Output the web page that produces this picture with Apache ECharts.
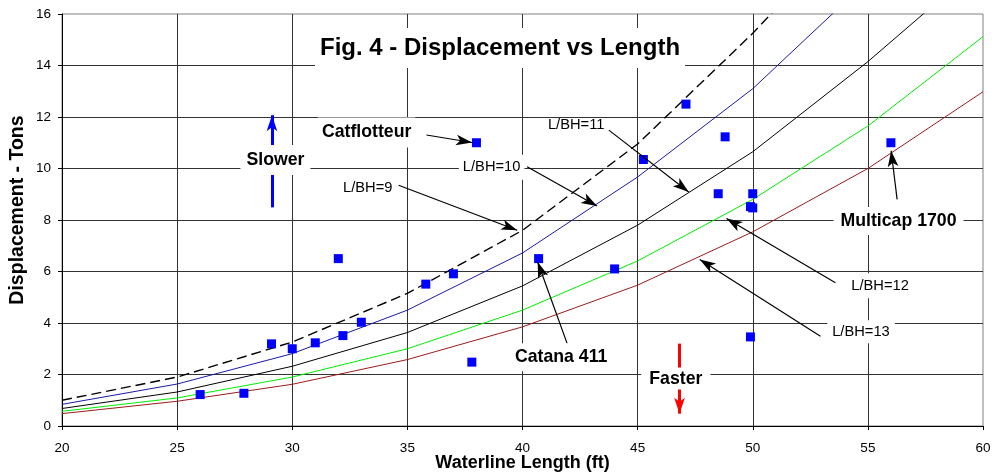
<!DOCTYPE html>
<html>
<head>
<meta charset="utf-8">
<script src="https://cdn.jsdelivr.net/npm/echarts@6/dist/echarts.min.js"></script>
<style>
html,body{margin:0;padding:0;background:#fff;}
#c{width:992px;height:474px;}
</style>
</head>
<body>
<div id="c"></div>
<script>
// ---- data ----
const lengths = [20, 25, 30, 35, 40, 45, 50, 55, 60];
const lbh9  = [1.00, 1.90, 3.26, 5.15, 7.60, 10.95, 15.25, 20.0, 25.6];
const lbh10 = [0.84, 1.63, 2.81, 4.50, 6.72, 9.67, 13.10, 17.3, 22.4];
const lbh11 = [0.68, 1.32, 2.32, 3.63, 5.44, 7.80, 10.65, 14.15, 18.0];
const lbh12 = [0.57, 1.09, 1.90, 3.00, 4.50, 6.41, 8.80, 11.65, 15.12];
const lbh13 = [0.48, 0.96, 1.62, 2.58, 3.85, 5.47, 7.54, 10.00, 12.98];

const boatLength = [26.0, 27.9, 29.1, 30.0, 31.0, 32.0, 32.2, 33.0, 35.8, 37.0, 37.8, 38.0, 40.7, 44.0, 45.25, 47.1, 48.5, 48.8, 49.9, 50.0, 50.0, 49.9, 56.0];
const boatDisp   = [1.22, 1.27, 3.19, 3.00, 3.23, 6.50, 3.51, 4.03, 5.51, 5.91, 2.48, 11.0, 6.50, 6.10, 10.35, 12.5, 9.02, 11.23, 8.52, 8.47, 9.02, 3.46, 11.0];

const seriesNames = ['L/BH=9', 'L/BH=10', 'L/BH=11', 'L/BH=12', 'L/BH=13'];

// annotation texts (data-space anchor) and arrows (from -> to)
const labelTexts = ['Slower', 'Faster', 'Catflotteur', 'Catana 411', 'Multicap 1700', 'L/BH=9', 'L/BH=10', 'L/BH=11', 'L/BH=12', 'L/BH=13'];
const labelX     = [29.27, 46.66, 33.23, 41.68, 56.33, 33.28, 38.66, 42.33, 55.53, 54.70];
const labelY     = [10.33, 1.84, 11.40, 2.67, 7.96, 9.25, 10.05, 11.69, 5.45, 3.66];

const arrowFromX = [29.12, 46.82, 35.83, 41.94, 56.27, 34.62, 40.20, 43.75, 53.59, 52.94];
const arrowFromY = [8.49, 3.20, 11.30, 3.20, 8.80, 9.35, 10.07, 11.49, 5.56, 3.49];
const arrowToX   = [29.12, 46.82, 37.81, 40.66, 56.01, 39.77, 43.24, 47.22, 48.86, 47.70];
const arrowToY   = [12.07, 0.48, 11.01, 6.37, 10.69, 7.60, 8.54, 9.09, 8.06, 6.47];

// ---- styles ----
const FF = '"Liberation Sans", Arial, sans-serif';
const labelStyles = [
  {bold: true,  bg: true,  pad: [6, 6]},
  {bold: true,  bg: true,  pad: [2, 8]},
  {bold: true,  bg: true,  pad: [6, 4]},
  {bold: true,  bg: true,  pad: [5, 4]},
  {bold: true,  bg: true,  pad: [5, 7]},
  {bold: false, bg: false, pad: [0, 0]},
  {bold: false, bg: true,  pad: [5, 4]},
  {bold: false, bg: false, pad: [0, 0]},
  {bold: false, bg: true,  pad: [5, 5]},
  {bold: false, bg: true,  pad: [4, 5]}
];
const arrowStyles = [
  {color: '#0000ff', width: 3, size: 11},
  {color: '#ff0000', width: 3, size: 11},
  {color: '#000', width: 1.2, size: 9},
  {color: '#000', width: 1.2, size: 9},
  {color: '#000', width: 1.2, size: 9},
  {color: '#000', width: 1.2, size: 9},
  {color: '#000', width: 1.2, size: 9},
  {color: '#000', width: 1.2, size: 9},
  {color: '#000', width: 1.2, size: 9},
  {color: '#000', width: 1.2, size: 9}
];
const lineColors = ['#000000', '#1a1aa6', '#000000', '#00ee00', '#9b1b1b'];

function curve(vals) { return lengths.map((x, i) => [x, vals[i]]); }

const curveSeries = [lbh9, lbh10, lbh11, lbh12, lbh13].map((vals, i) => ({
  type: 'line',
  name: seriesNames[i],
  data: curve(vals),
  symbol: 'none',
  clip: true,
  z: 2,
  lineStyle: {color: lineColors[i], width: i === 0 ? 1.4 : 1, type: i === 0 ? [10, 5] : 'solid'},
  emphasis: {disabled: true}
}));

const boatSeries = {
  type: 'scatter',
  name: 'Boats',
  data: boatLength.map((x, i) => [x, boatDisp[i]]),
  symbol: 'rect',
  symbolSize: 9,
  z: 3,
  itemStyle: {color: '#0000ff', opacity: 1},
  emphasis: {disabled: true}
};

const arrowSeries = {
  type: 'line',
  name: 'arrows',
  data: [],
  z: 4,
  markLine: {
    silent: true,
    animation: false,
    symbol: ['none', 'arrow'],
    label: {show: false},
    emphasis: {disabled: true},
    data: arrowFromX.map((fx, i) => [
      {coord: [fx, arrowFromY[i]], symbolSize: [0, arrowStyles[i].size],
       lineStyle: {color: arrowStyles[i].color, width: arrowStyles[i].width, type: 'solid'}},
      {coord: [arrowToX[i], arrowToY[i]]}
    ])
  }
};

const labelSeries = {
  type: 'scatter',
  name: 'labels',
  z: 10,
  symbolSize: 1,
  itemStyle: {color: 'rgba(255,255,255,0)', opacity: 1},
  emphasis: {disabled: true},
  data: labelTexts.map((t, i) => ({
    value: [labelX[i], labelY[i]],
    name: t,
    label: {
      show: true,
      position: 'inside',
      formatter: t,
      color: '#000',
      opacity: 1,
      textBorderWidth: 0,
      fontFamily: FF,
      fontSize: labelStyles[i].bold ? 17.7 : 14.7,
      fontWeight: labelStyles[i].bold ? 'bold' : 'normal',
      lineHeight: labelStyles[i].bold ? 18 : 15,
      backgroundColor: labelStyles[i].bg ? '#ffffff' : 'transparent',
      padding: labelStyles[i].pad
    }
  }))
};

const chart = echarts.init(document.getElementById('c'), null, {renderer: 'canvas'});
chart.setOption({
  animation: false,
  backgroundColor: '#fff',
  title: {
    text: 'Fig. 4 - Displacement vs Length',
    left: 315, top: 28, padding: [8, 5],
    backgroundColor: '#fff',
    textStyle: {fontFamily: FF, fontSize: 24, fontWeight: 'bold', color: '#000'}
  },
  grid: {left: 62, right: 9, top: 14, bottom: 48, containLabel: false, outerBoundsMode: 'none',
         show: true, borderColor: '#808080', borderWidth: 1, backgroundColor: 'transparent'},
  xAxis: {
    type: 'value', min: 20, max: 60, interval: 5,
    name: 'Waterline Length (ft)', nameLocation: 'middle', nameGap: 28, nameMoveOverlap: false,
    nameTextStyle: {fontFamily: FF, fontSize: 18, fontWeight: 'bold', color: '#000'},
    axisLine: {onZero: false, lineStyle: {color: '#000', width: 1}},
    axisTick: {show: true, length: 4, lineStyle: {color: '#000'}},
    axisLabel: {margin: 15, fontFamily: FF, fontSize: 13.5, color: '#000'},
    splitLine: {show: true, showMinLine: false, showMaxLine: false, lineStyle: {color: '#333', width: 1}}
  },
  yAxis: {
    type: 'value', min: 0, max: 16, interval: 2,
    name: 'Displacement - Tons', nameLocation: 'middle', nameGap: 34, nameMoveOverlap: false,
    nameTextStyle: {fontFamily: FF, fontSize: 19.5, fontWeight: 'bold', color: '#000', padding: [0, 0, 0, 20]},
    axisLine: {onZero: false, lineStyle: {color: '#000', width: 1}},
    axisTick: {show: true, length: 4, lineStyle: {color: '#000'}},
    axisLabel: {margin: 11, fontFamily: FF, fontSize: 13.5, color: '#000'},
    splitLine: {show: true, showMinLine: false, showMaxLine: false, lineStyle: {color: '#333', width: 1}}
  },
  series: curveSeries.concat([boatSeries, arrowSeries, labelSeries])
});
</script>
</body>
</html>
